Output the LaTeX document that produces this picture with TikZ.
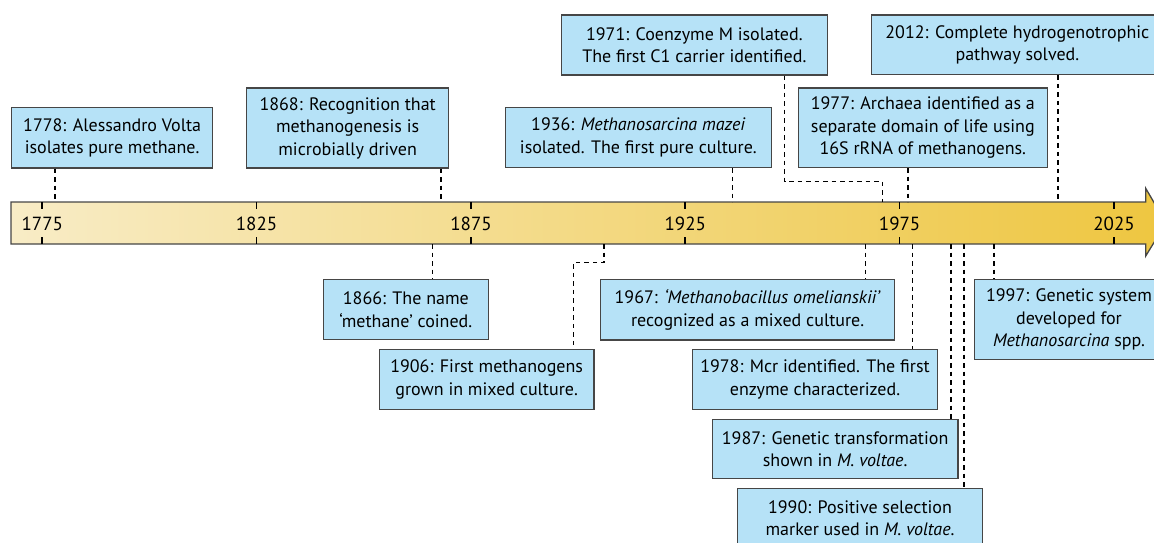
\documentclass[tikz,border=0pt]{standalone}
\usepackage{fontspec}
\setmainfont{PT Sans}
\definecolor{boxfill}{RGB}{182,226,247}
\definecolor{boxline}{RGB}{70,70,70}
\definecolor{barleft}{RGB}{248,236,198}
\definecolor{barright}{RGB}{238,198,64}
\begin{document}
\begin{tikzpicture}[x=1pt,y=-1pt,
  box/.style={draw=boxline, fill=boxfill, line width=1.3pt, inner sep=0pt, align=center,
    font=\fontsize{18}{22.5}\selectfont, anchor=north west},
  conn/.style={draw=black, line width=1.5pt, dash pattern=on 4.5pt off 4pt},
  tickmark/.style={draw=black, line width=1.7pt},
  yrlabel/.style={font=\fontsize{19}{22}\selectfont, inner sep=0pt, text=black}]
\useasboundingbox (0,0) rectangle (1154,542);
\clip (0,0) rectangle (1154,542);

% timeline arrow
\shade[left color=barleft, right color=barright]
  (11,202) -- (1145.7,202) -- (1145.7,188.3) -- (1166,223) -- (1145.7,256) -- (1145.7,244) -- (11,244) -- cycle;
\draw[boxline, line width=1.3pt, line join=miter]
  (11,202) -- (1145.7,202) -- (1145.7,188.3) -- (1166,223) -- (1145.7,256) -- (1145.7,244) -- (11,244) -- cycle;

% ticks and year labels
\foreach \x/\y in {42.3/1775, 256.6/1825, 471.0/1875, 685.3/1925, 899.6/1975, 1114.0/2025}{
  \draw[tickmark] (\x,202) -- (\x,209);
  \draw[tickmark] (\x,237) -- (\x,244);
  \node[yrlabel] (lab\y) at (\x,223.5) {\y};
}

% points on the bar
\coordinate (t1778) at (55.2,202);
\coordinate (t1868) at (441.0,202);
\coordinate (t1936) at (732.4,202);
\coordinate (t1971) at (882.5,202);
\coordinate (t1977) at (908.2,202);
\coordinate (t2012) at (1058.2,202);
\coordinate (u1866) at (432.4,244);
\coordinate (u1906) at (603.9,244);
\coordinate (u1967) at (865.3,244);
\coordinate (u1978) at (912.5,244);
\coordinate (u1987) at (951.1,244);
\coordinate (u1990) at (963.9,244);
\coordinate (u1997) at (993.9,244);
\coordinate (m1971) at (784.7,181.7);
\coordinate (m1906) at (573.3,262.7);

% boxes above
\node[box, minimum width=201pt, minimum height=60.6pt] (b1778) at (11,106.7)
  {1778: Alessandro Volta\\isolates pure methane.};
\node[box, minimum width=202pt, minimum height=80pt] (b1868) at (246,87.3)
  {1868: Recognition that\\methanogenesis is\\microbially driven};
\node[box, minimum width=266pt, minimum height=60pt] (b1936) at (504.7,106.7)
  {1936: \textit{Methanosarcina mazei}\\isolated. The first pure culture.};
\node[box, minimum width=266pt, minimum height=60pt] (b1971) at (560.7,14.3)
  {1971: Coenzyme M isolated.\\The first C1 carrier identified.};
\node[box, minimum width=249pt, minimum height=79.4pt] (b1977) at (797.7,87.3)
  {1977: Archaea identified as a\\separate domain of life using\\16S rRNA of methanogens.};
\node[box, minimum width=292pt, minimum height=59.7pt] (b2012) at (870.7,14.3)
  {2012: Complete hydrogenotrophic\\pathway solved.};

% boxes below
\node[box, minimum width=165pt, minimum height=60pt] (b1866) at (322.7,279)
  {1866: The name\\‘methane’ coined.};
\node[box, minimum width=214.6pt, minimum height=59.7pt] (b1906) at (378.7,349)
  {1906: First methanogens\\grown in mixed culture.};
\node[box, minimum width=294pt, minimum height=60.3pt] (b1967) at (600,279)
  {1967: \textit{‘Methanobacillus omelianskii’}\\recognized as a mixed culture.};
\node[box, minimum width=245.3pt, minimum height=59.7pt] (b1978) at (691.7,349)
  {1978: Mcr identified. The first\\enzyme characterized.};
\node[box, minimum width=245.6pt, minimum height=59.3pt] (b1987) at (711.7,418.7)
  {1987: Genetic transformation\\shown in \textit{M. voltae}.};
\node[box, minimum width=245.3pt, minimum height=60pt] (b1990) at (736.7,487.7)
  {1990: Positive selection\\marker used in \textit{M. voltae}.};
\node[box, minimum width=188.7pt, minimum height=79.7pt] (b1997) at (974,279)
  {1997: Genetic system\\developed for\\\textit{Methanosarcina} spp.};

% connectors above
\draw[conn] (b1778.south -| t1778) -- (t1778);
\draw[conn] (b1868.south -| t1868) -- (t1868);
\draw[conn] (b1936.south -| t1936) -- (t1936);
\draw[conn] (b1971.south -| m1971) -- (m1971) -| (t1971);
\draw[conn] (b1977.south -| t1977) -- (t1977);
\draw[conn] (b2012.south -| t2012) -- (t2012);

% connectors below
\draw[conn] (u1866) -- (b1866.north -| u1866);
\draw[conn] (u1906) |- (m1906) -- (b1906.north -| m1906);
\draw[conn] (u1967) -- (b1967.north -| u1967);
\draw[conn] (u1978) -- (b1978.north -| u1978);
\draw[conn] (u1987) -- (b1987.north -| u1987);
\draw[conn] (u1990) -- (b1990.north -| u1990);
\draw[conn] (u1997) -- (b1997.north -| u1997);
\end{tikzpicture}
\end{document}
